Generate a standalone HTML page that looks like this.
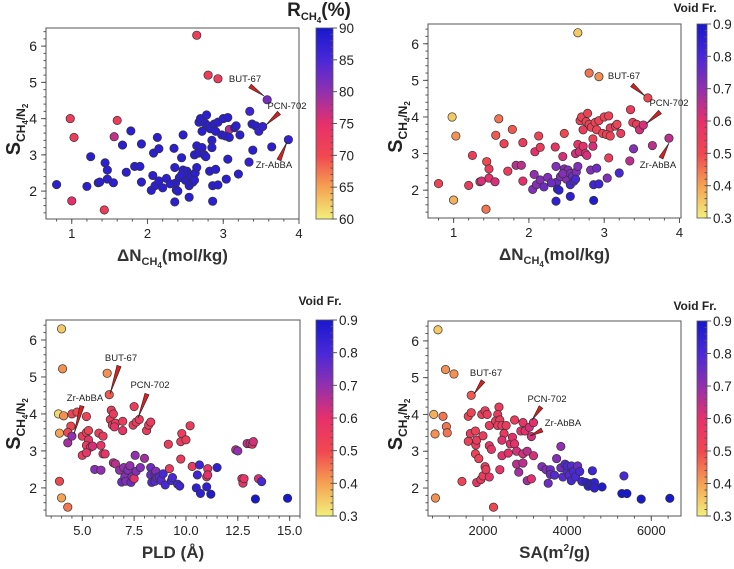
<!DOCTYPE html>
<html><head><meta charset="utf-8"><style>
body{margin:0;background:#fff;width:734px;height:564px;overflow:hidden;font-family:"Liberation Sans",Arial,sans-serif}
svg text{font-family:"Liberation Sans",Arial,sans-serif}
</style></head><body>
<svg id="chart" width="734" height="564" viewBox="0 0 734 564" xmlns="http://www.w3.org/2000/svg">
<defs>
<linearGradient id="cmap" x1="0" y1="1" x2="0" y2="0">
<stop offset="0" stop-color="#f2f07a"/><stop offset="0.17" stop-color="#f5a052"/><stop offset="0.33" stop-color="#f04850"/><stop offset="0.5" stop-color="#e6306c"/><stop offset="0.67" stop-color="#9030b0"/><stop offset="0.83" stop-color="#4a28d8"/><stop offset="1" stop-color="#1818cc"/>
</linearGradient>
</defs>
</svg>
<script>
// ---- Panel A/B data: uptake vs selectivity ----
const dN=[2.65,2.8,2.93,0.98,1.6,1.03,1.56,1.0,1.43,3.08,0.8,1.2,1.25,1.35,1.37,1.44,1.47,1.47,1.55,1.67,1.72,1.78,1.83,1.9,1.92,1.92,2.05,2.07,2.08,2.1,2.13,2.15,2.15,2.2,2.25,2.35,2.36,2.37,2.38,2.4,2.42,2.45,2.47,2.47,2.5,2.52,2.55,2.55,2.58,2.6,2.62,2.63,2.65,2.65,2.67,2.68,2.7,2.72,2.72,2.75,2.76,2.77,2.78,2.8,2.82,2.83,2.85,2.86,2.85,2.88,2.9,2.9,2.93,2.93,2.98,3.0,3.03,3.04,3.06,3.06,3.08,3.15,3.17,3.2,3.22,3.34,3.35,3.38,3.39,3.43,3.47,3.52,3.58,3.64,3.86,2.36,2.55,2.86,2.62,2.45,2.3];
const S1=[6.3,5.2,5.1,4.0,3.95,3.48,3.5,1.73,1.48,3.7,2.18,2.13,2.95,2.23,2.25,2.78,2.58,2.33,2.23,3.27,2.52,3.66,2.68,2.68,3.3,2.25,2.02,2.43,3.05,2.15,3.48,3.17,2.28,2.09,2.35,3.18,2.65,2.22,2.03,2.0,2.37,2.92,3.55,2.58,2.3,2.55,2.15,2.45,2.38,2.25,3.0,2.5,3.25,2.65,3.05,3.9,4.0,3.65,3.2,3.0,3.87,2.95,4.1,3.8,2.55,3.72,3.4,2.15,3.2,3.85,3.65,2.6,2.17,3.9,3.55,4.0,3.52,2.33,4.03,2.88,3.48,3.75,3.8,2.47,3.55,2.8,4.2,3.85,3.13,3.8,3.65,3.78,4.52,3.22,3.42,1.7,1.83,1.72,2.3,2.45,2.2];
const R1=[72,72,72,72,72,72,77,75,72,78,88,88,88,88,88,88,88,88,88,88,88,88,88,88,88,88,88,88,88,88,88,88,88,88,88,88,88,88,88,88,88,88,88,88,88,88,88,88,88,88,88,88,88,88,88,88,88,88,88,88,88,88,88,88,88,88,88,88,88,88,88,88,88,88,88,88,88,88,88,88,88,88,88,88,88,87,86,88,88,88,87,87,82,88,87,88,88,88,88,88,88];
const VF1=[0.35,0.45,0.42,0.35,0.45,0.42,0.48,0.38,0.45,0.55,0.52,0.55,0.55,0.6,0.62,0.5,0.55,0.6,0.62,0.52,0.55,0.48,0.65,0.65,0.55,0.6,0.72,0.7,0.6,0.72,0.52,0.55,0.72,0.75,0.72,0.58,0.72,0.75,0.85,0.85,0.72,0.62,0.5,0.72,0.72,0.72,0.8,0.72,0.75,0.78,0.62,0.72,0.58,0.72,0.62,0.52,0.52,0.55,0.6,0.62,0.52,0.62,0.52,0.52,0.72,0.52,0.52,0.82,0.62,0.52,0.52,0.75,0.82,0.52,0.52,0.52,0.52,0.72,0.52,0.55,0.52,0.52,0.52,0.8,0.55,0.65,0.55,0.55,0.72,0.55,0.62,0.62,0.5,0.65,0.65,0.85,0.85,0.88,0.8,0.72,0.75];
// ---- Panel C data: PLD ----
const PLD=[4.0,4.05,6.2,6.3,3.85,4.1,3.9,3.9,4.0,4.3,4.5,4.75,4.45,4.3,4.3,4.5,5.2,5.0,5.2,5.3,5.3,5.2,5.4,5.5,5.0,5.2,5.8,6.0,5.9,6.0,6.1,5.6,5.9,6.4,6.35,6.5,6.45,6.6,6.55,6.5,6.6,6.8,6.9,6.95,6.95,7.0,7.05,7.1,7.2,7.3,7.35,7.4,7.45,7.5,7.5,7.55,7.6,7.6,7.75,7.8,8.0,8.1,8.2,8.3,8.3,8.3,8.35,8.5,8.5,8.55,8.6,8.7,8.8,8.9,9.0,9.15,9.2,9.3,9.35,9.6,9.7,9.75,9.75,9.8,10.0,10.2,10.3,10.5,10.55,10.65,10.7,11.0,11.0,11.05,11.05,11.2,11.5,12.4,12.5,12.7,12.75,12.8,12.95,13.1,13.2,13.25,13.35,13.5,13.65,14.9];
const S3=[6.3,5.22,5.1,4.52,4.0,3.95,3.48,2.18,1.73,1.48,4.0,4.05,3.67,3.5,3.22,3.4,3.93,3.4,3.5,3.55,3.3,3.15,3.1,3.13,2.88,2.95,3.48,3.4,3.15,2.92,2.92,2.5,2.48,4.1,3.85,4.0,3.7,3.75,3.65,2.68,2.65,2.48,2.16,3.8,3.55,2.55,2.3,2.18,2.48,2.6,2.15,2.3,3.7,4.2,2.25,2.88,2.45,3.78,3.85,2.55,2.8,3.55,3.7,3.78,2.55,2.35,2.15,2.18,2.35,2.45,2.28,2.3,2.2,2.38,2.08,3.18,2.52,2.2,2.28,2.1,2.05,3.25,2.78,3.47,3.3,3.68,2.58,2.0,2.35,2.62,1.85,2.03,2.3,2.52,2.35,1.83,2.55,3.03,3.0,2.25,2.13,2.25,3.2,3.2,3.18,3.25,1.7,2.25,2.17,1.72];
const VF3=[0.35,0.42,0.42,0.48,0.33,0.42,0.4,0.5,0.4,0.45,0.52,0.5,0.5,0.5,0.68,0.7,0.52,0.55,0.52,0.52,0.58,0.55,0.58,0.62,0.55,0.58,0.55,0.55,0.58,0.6,0.58,0.72,0.7,0.55,0.55,0.55,0.56,0.55,0.58,0.65,0.65,0.7,0.75,0.55,0.58,0.7,0.72,0.72,0.72,0.7,0.75,0.72,0.55,0.55,0.6,0.7,0.72,0.55,0.55,0.72,0.68,0.55,0.55,0.55,0.75,0.75,0.78,0.78,0.78,0.72,0.75,0.78,0.78,0.8,0.8,0.55,0.55,0.8,0.8,0.8,0.82,0.55,0.55,0.55,0.55,0.55,0.55,0.85,0.82,0.82,0.85,0.85,0.58,0.58,0.6,0.88,0.85,0.65,0.7,0.58,0.58,0.58,0.65,0.62,0.6,0.62,0.9,0.62,0.8,0.9];
// ---- Panel D data: surface area ----
const SA=[930,1110,1310,1720,830,1050,860,870,1130,1150,1500,2250,1650,1720,1650,1700,1820,1830,1850,1820,1900,1850,1950,2000,2050,2070,2150,1970,2050,2100,2150,2000,2150,2200,2380,2350,2300,2400,2350,2450,2500,2450,2400,2450,2550,2600,2650,2700,2750,2750,2800,2800,2850,2900,2950,2950,2950,3000,3050,3050,3100,3150,3200,3200,3150,3400,3500,3550,3600,3600,3700,3750,3850,3850,3900,3950,4000,4000,4050,4100,4100,4150,4200,4250,4300,4350,4450,4500,4550,4600,4650,4600,4650,4830,5300,5350,5420,5760,6440];
const S4=[6.3,5.22,5.1,4.52,4.0,3.95,3.47,1.73,3.67,3.5,2.18,1.48,3.95,4.05,3.27,3.48,3.55,3.17,3.3,2.93,2.8,2.15,2.23,2.33,2.58,2.5,2.3,4.0,4.1,4.0,3.7,3.42,3.15,3.05,4.2,4.0,3.82,3.85,3.7,3.7,3.48,3.3,2.5,2.88,3.7,2.95,3.2,3.38,3.2,3.85,3.0,2.65,2.43,3.55,3.78,2.93,2.68,3.55,3.0,2.2,3.65,3.4,3.78,2.88,2.25,2.58,2.5,2.13,2.5,2.37,2.35,2.8,3.13,2.55,2.3,2.65,2.45,2.6,2.35,2.6,2.2,2.45,2.3,2.6,2.45,2.18,2.15,2.05,2.12,2.1,2.15,2.47,2.0,2.03,1.85,2.33,1.85,1.7,1.72];
const VF4=[0.35,0.42,0.42,0.48,0.38,0.45,0.42,0.42,0.45,0.45,0.52,0.5,0.52,0.52,0.53,0.55,0.53,0.55,0.55,0.52,0.53,0.58,0.55,0.55,0.55,0.55,0.58,0.55,0.55,0.55,0.55,0.55,0.58,0.58,0.55,0.55,0.55,0.55,0.55,0.55,0.56,0.6,0.58,0.6,0.55,0.6,0.6,0.6,0.6,0.55,0.62,0.65,0.68,0.6,0.58,0.62,0.65,0.6,0.65,0.68,0.62,0.62,0.6,0.62,0.6,0.72,0.72,0.75,0.75,0.75,0.78,0.72,0.7,0.75,0.78,0.78,0.78,0.8,0.78,0.78,0.8,0.8,0.8,0.75,0.8,0.82,0.85,0.85,0.85,0.85,0.85,0.82,0.85,0.88,0.9,0.8,0.9,0.9,0.9];
// colorbar ticks
const cbTicksR=[60,65,70,75,80,85,90];
const cbTicksV=[0.3,0.4,0.5,0.6,0.7,0.8,0.9];

const NS='http://www.w3.org/2000/svg';
const svg=document.getElementById('chart');
function mk(tag,attrs,parent){const e=document.createElementNS(NS,tag);for(const k in attrs)e.setAttribute(k,attrs[k]);(parent||svg).appendChild(e);return e;}
const stops=[[0,[242,240,122]],[0.17,[245,160,82]],[0.33,[240,72,80]],[0.5,[230,48,108]],[0.67,[144,48,176]],[0.83,[74,40,216]],[1,[24,24,204]]];
function cmap(t){t=Math.max(0,Math.min(1,t));for(let i=1;i<stops.length;i++){if(t<=stops[i][0]){const a=stops[i-1],b=stops[i];const f=(t-a[0])/(b[0]-a[0]);const c=a[1].map((v,j)=>Math.round(v+(b[1][j]-v)*f));return 'rgb('+c.join(',')+')';}}return 'rgb(24,24,204)';}

function panel(p){
  const g=mk('g',{});
  
  
  const sx=v=>p.x0+(v-p.xmin)/(p.xmax-p.xmin)*(p.x1-p.x0);
  const sy=v=>p.y1-(v-p.ymin)/(p.ymax-p.ymin)*(p.y1-p.y0);
  const fr=mk('rect',{x:p.x0,y:p.y0,width:p.x1-p.x0,height:p.y1-p.y0,fill:'none',stroke:'#555','stroke-width':1},g);
  
  
  for(let v=p.xminT;v<=p.xmax+1e-9;v+=p.xminor){const X=sx(v);mk('line',{x1:X,x2:X,y1:p.y1,y2:p.y1+2.5,stroke:'#555'},g);}
  p.xt.forEach((v,i)=>{const X=sx(v);mk('line',{x1:X,x2:X,y1:p.y1,y2:p.y1+5,stroke:'#555'},g);const t=mk('text',{x:X,y:p.y1+19,'font-size':13,'text-anchor':'middle',fill:'#222'},g);t.textContent=p.xl[i];});
  for(let v=1.4;v<=6.5;v+=0.2){const Y=sy(v);mk('line',{x1:p.x0,x2:p.x0-2.5,y1:Y,y2:Y,stroke:'#555'},g);}
  [2,3,4,5,6].forEach(v=>{const Y=sy(v);mk('line',{x1:p.x0,x2:p.x0-5,y1:Y,y2:Y,stroke:'#555'},g);const t=mk('text',{x:p.x0-9,y:Y+5,'font-size':14,'text-anchor':'end',fill:'#222'},g);t.textContent=v;});
  for(let i=0;i<p.xs.length;i++){const c=mk('circle',{cx:sx(p.xs[i]),cy:sy(p.ys[i]),r:4.2,fill:cmap((p.cs[i]-p.cmin)/(p.cmax-p.cmin)),stroke:'#333','stroke-width':0.7},g);
    
    }
  p.ann.forEach(a=>{const [tx,ty,bx,by,ex,ey,lab]=a;const dx=ex-bx,dy=ey-by,L=Math.hypot(dx,dy),nx=-dy/L*2.2,ny=dx/L*2.2;
    const w=mk('polygon',{points:`${bx+nx},${by+ny} ${bx-nx},${by-ny} ${ex},${ey}`,fill:'#d82020',stroke:'#222','stroke-width':0.6},g);
    
    
    const t=mk('text',{x:tx,y:ty,'font-size':9.5,'text-anchor':'middle',fill:'#222'},g);t.textContent=lab;
    
    });
  const yt=mk('text',{transform:`translate(${p.x0-26},${(p.y0+p.y1)/2+6}) rotate(-90)`,'font-size':20,'font-weight':'bold','text-anchor':'middle',fill:'#222'},g);
  yt.innerHTML='S<tspan font-size="12" dy="5">CH<tspan font-size="8" dy="3">4</tspan><tspan dy="-3">/N</tspan><tspan font-size="8" dy="3">2</tspan></tspan>';
  
  
  const xt=mk('text',{x:(p.x0+p.x1)/2,y:p.y1+42,'font-size':17,'font-weight':'bold','text-anchor':'middle',fill:'#333'},g);
  xt.innerHTML=p.xtitle;
  
  
  const cb=mk('rect',{x:p.cbx,y:p.y0,width:p.cbw,height:p.y1-p.y0,fill:'url(#cmap)',stroke:'#555','stroke-width':0.8},g);
  
  
  const cy=v=>p.y1-(v-p.cmin)/(p.cmax-p.cmin)*(p.y1-p.y0);
  const step=(p.cbt[1]-p.cbt[0])/5;
  for(let v=p.cmin;v<=p.cmax+1e-9;v+=step){const Y=cy(v);mk('line',{x1:p.cbx+p.cbw,x2:p.cbx+p.cbw-2.5,y1:Y,y2:Y,stroke:'#555'},g);}
  p.cbt.forEach(v=>{const Y=cy(v);mk('line',{x1:p.cbx+p.cbw,x2:p.cbx+p.cbw+4,y1:Y,y2:Y,stroke:'#555'},g);const t=mk('text',{x:p.cbx+p.cbw+6,y:Y+5,'font-size':13.5,fill:'#222'},g);t.textContent=p.cmax>1?v:v.toFixed(1);});
  const ct=mk('text',{x:p.ctx,y:p.cty,'font-size':p.ctfs,'font-weight':'bold','text-anchor':'middle',fill:'#222'},g);
  ct.innerHTML=p.ctitle;
  
  
}
const dnTitle='ΔN<tspan font-size="11" dy="4">CH<tspan font-size="8" dy="3">4</tspan></tspan><tspan dy="-7">(mol/kg)</tspan>';
panel({name:'panel-uptake-recovery',x0:46,x1:299,y0:28,y1:219,xmin:0.66,xmax:4.0,xminT:0.8,xminor:0.2,ymin:1.23,ymax:6.5,xt:[1,2,3,4],xl:['1','2','3','4'],xs:dN,ys:S1,cs:R1,cmin:60,cmax:90,cbx:316,cbw:17,cbt:cbTicksR,ctx:319,cty:16,ctfs:19,ctitle:'R<tspan font-size="11" dy="4">CH<tspan font-size="8" dy="3">4</tspan></tspan><tspan dy="-7">(%)</tspan>',xtitle:dnTitle,
  ann:[[245,82,250,86,264,96,'BUT-67'],[287,109,279,113,266,125,'PCN-702'],[274,168,279,160,287,142,'Zr-AbBA']]});
panel({name:'panel-uptake-voidfraction',x0:428,x1:681,y0:24,y1:218,xmin:0.66,xmax:4.02,xminT:0.8,xminor:0.2,ymin:1.24,ymax:6.54,xt:[1,2,3,4],xl:['1','2','3','4'],xs:dN,ys:S1,cs:VF1,cmin:0.3,cmax:0.9,cbx:697,cbw:10,cbt:cbTicksV,ctx:695,cty:12,ctfs:12,ctitle:'Void Fr.',xtitle:dnTitle,
  ann:[[624,79,632,85,645,96,'BUT-67'],[669,106,660,112,646,124,'PCN-702'],[658,168,661,158,669,143,'Zr-AbBA']]});
panel({name:'panel-pld',x0:46,x1:300,y0:320,y1:516,xmin:3.25,xmax:15.5,xminT:3.5,xminor:0.5,ymin:1.24,ymax:6.54,xt:[5,7.5,10,12.5,15],xl:['5.0','7.5','10.0','12.5','15.0'],xs:PLD,ys:S3,cs:VF3,cmin:0.3,cmax:0.9,cbx:316,cbw:17,cbt:cbTicksV,ctx:320,cty:305,ctfs:12,ctitle:'Void Fr.',xtitle:'PLD (Å)',
  ann:[[121,361,119,366,110,394,'BUT-67'],[150,388,147,394,138,418,'PCN-702'],[85,401,82,406,74,434,'Zr-AbBA']]});
panel({name:'panel-surface-area',x0:428,x1:681,y0:321,y1:516,xmin:693,xmax:6706,xminT:800,xminor:400,ymin:1.24,ymax:6.54,xt:[2000,4000,6000],xl:['2000','4000','6000'],xs:SA,ys:S4,cs:VF4,cmin:0.3,cmax:0.9,cbx:697,cbw:10,cbt:cbTicksV,ctx:695,cty:310,ctfs:12,ctitle:'Void Fr.',xtitle:'SA(m<tspan font-size="10" dy="-7">2</tspan><tspan dy="7">/g)</tspan>',
  ann:[[486,376,483,381,474,394,'BUT-67'],[547,402,541,407,532,420,'PCN-702'],[563,426,542,430,530,436,'Zr-AbBA']]});
</script>
</body></html>
